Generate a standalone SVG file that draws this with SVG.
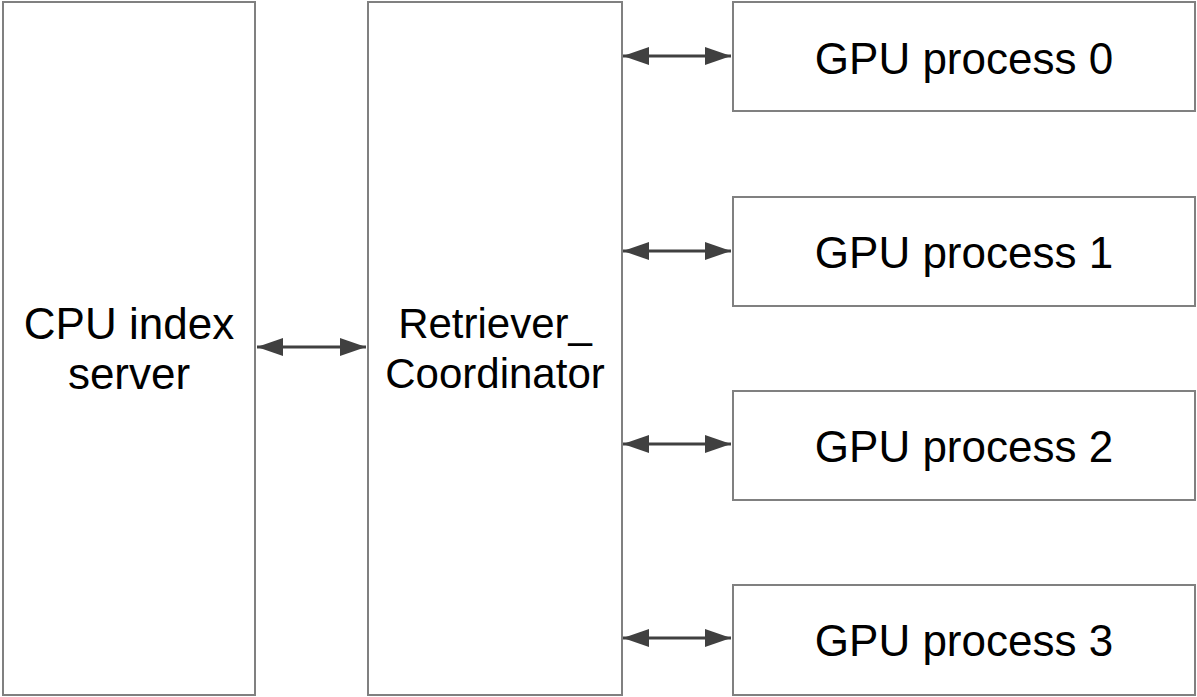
<svg xmlns="http://www.w3.org/2000/svg" width="1197" height="697" viewBox="0 0 1197 697">
<style>
.box{fill:#fff;stroke:#808080;stroke-width:2}
.lbl{font-family:"Liberation Sans",Arial,sans-serif;font-size:44px;fill:#000;text-anchor:middle}
.sm{font-size:42px}
.conn{stroke:#404040;stroke-width:3;fill:none;marker-start:url(#ah);marker-end:url(#ah)}
</style>
<defs>
<marker id="ah" viewBox="0 0 26 18" refX="26" refY="9" markerWidth="26" markerHeight="18" markerUnits="userSpaceOnUse" orient="auto-start-reverse">
<path d="M0,0 L26,9 L0,18 Z" fill="#404040"/>
</marker>
</defs>
<rect width="1197" height="697" fill="#fff"/>
<g id="cpu"><rect class="box" x="3" y="2" width="252" height="693"/>
<text class="lbl" x="129" y="339">CPU index</text><text class="lbl" x="129" y="389">server</text></g>
<g id="coord"><rect class="box" x="368" y="2" width="254" height="693"/>
<text class="lbl sm" x="495" y="338">Retriever_</text><text class="lbl sm" x="495" y="388">Coordinator</text></g>
<g id="gpu0"><rect class="box" x="733" y="2" width="462" height="109"/><text class="lbl" x="964" y="74">GPU process 0</text></g>
<g id="gpu1"><rect class="box" x="733" y="197" width="462" height="109"/><text class="lbl" x="964" y="268">GPU process 1</text></g>
<g id="gpu2"><rect class="box" x="733" y="391" width="462" height="109"/><text class="lbl" x="964" y="462">GPU process 2</text></g>
<g id="gpu3"><rect class="box" x="733" y="585" width="462" height="110"/><text class="lbl" x="964" y="656">GPU process 3</text></g>
<g id="connectors">
<line class="conn" x1="257" y1="347" x2="366" y2="347"/>
<line class="conn" x1="623" y1="56" x2="731" y2="56"/>
<line class="conn" x1="623" y1="251" x2="731" y2="251"/>
<line class="conn" x1="623" y1="444" x2="731" y2="444"/>
<line class="conn" x1="623" y1="638" x2="731" y2="638"/>
</g>
</svg>
